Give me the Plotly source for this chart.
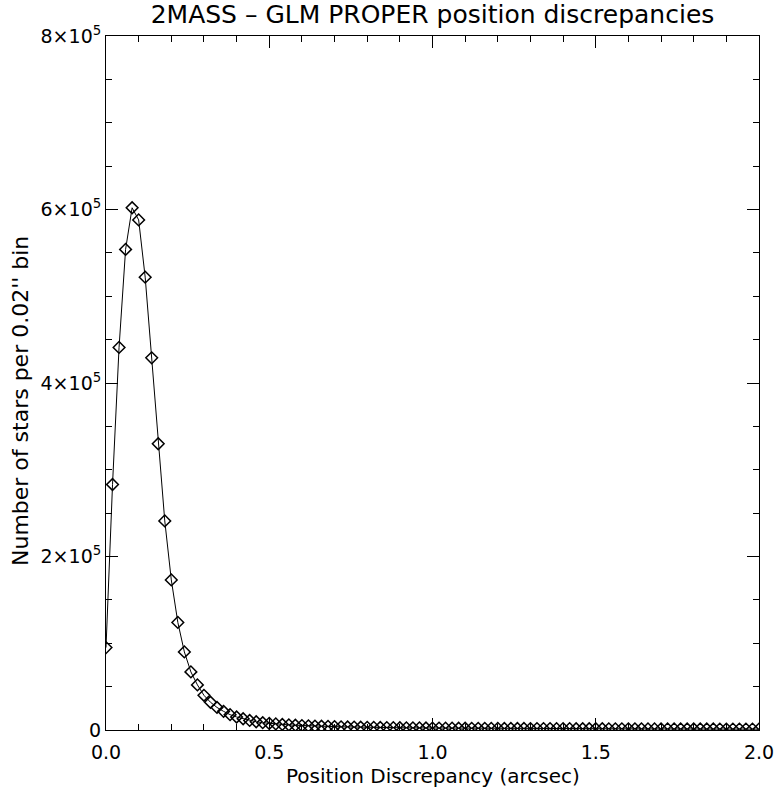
import plotly.graph_objects as go

# bin centers (arcsec), step 0.02
bin_step = 0.02
n_bins = 101
separation = [round(i * bin_step, 2) for i in range(n_bins)]

counts = [
    95000, 283000, 441000, 554000, 602000, 588000, 522000, 429000, 330000, 241000,
    173000, 124000, 90000, 67000, 52000, 40000, 32000, 26000, 21500, 17700,
    15000, 13000, 11000, 9500, 8400, 7600, 7000, 6400, 5900, 5500,
    5100, 4800, 4500, 4300, 4100, 3900, 3700, 3500, 3400, 3200,
    3100, 3000, 2900, 2800, 2700, 2600, 2500, 2450, 2400, 2300,
    2250, 2200, 2150, 2100, 2050, 2000, 1950, 1900, 1880, 1850,
    1800, 1780, 1750, 1720, 1700, 1680, 1650, 1620, 1600, 1580,
    1550, 1530, 1500, 1480, 1460, 1440, 1420, 1400, 1380, 1360,
    1340, 1320, 1300, 1290, 1270, 1250, 1240, 1220, 1200, 1190,
    1170, 1160, 1140, 1130, 1110, 1100, 1090, 1070, 1060, 1050,
    1040,
]

x_tickvals = [0.0, 0.5, 1.0, 1.5, 2.0]
x_ticktext = ["0.0", "0.5", "1.0", "1.5", "2.0"]
y_tickvals = [0, 200000, 400000, 600000, 800000]
y_ticktext = ["0", "2×10<sup>5</sup>", "4×10<sup>5</sup>", "6×10<sup>5</sup>", "8×10<sup>5</sup>"]

title_text = "2MASS – GLM PROPER position discrepancies"
x_title = "Position Discrepancy (arcsec)"
y_title = "Number of stars per 0.02'' bin"

FONT = "DejaVu Sans"
W, H = 777, 788
L, R, T, B = 106, 18, 36, 58

fig = go.Figure()
fig.add_trace(go.Scatter(
    x=separation, y=counts, mode="lines+markers",
    line=dict(color="black", width=1),
    marker=dict(symbol="diamond-open", size=9, color="black", line=dict(width=1.5, color="black")),
    cliponaxis=True, showlegend=False,
))

axis_common = dict(
    showgrid=False, zeroline=False, showline=True, linecolor="black", linewidth=1,
    mirror="ticks", ticks="inside", tickcolor="black", tickwidth=1, ticklen=12,
    tickfont=dict(family=FONT, size=19, color="black"), automargin=False,
)

fig.update_xaxes(
    range=[0, 2], tickmode="array", tickvals=x_tickvals, ticktext=x_ticktext,
    minor=dict(ticks="inside", dtick=0.1, ticklen=6, tickcolor="black", tickwidth=1),
    ticklabelstandoff=5,
    **axis_common,
)
fig.update_yaxes(
    range=[0, 800000], tickmode="array", tickvals=y_tickvals, ticktext=y_ticktext,
    minor=dict(ticks="inside", dtick=50000, ticklen=6, tickcolor="black", tickwidth=1),
    **axis_common,
)

cx = (L + (W - R)) / 2
fig.update_layout(
    width=W, height=H,
    margin=dict(l=L, r=R, t=T, b=B),
    paper_bgcolor="white", plot_bgcolor="white",
    title=dict(text=title_text, x=cx / W, xanchor="center", y=1 - 14 / H, yanchor="middle",
               font=dict(family=FONT, size=25, color="black")),
    annotations=[
        dict(text=x_title, xref="paper", yref="paper", x=0.5, y=-(776 - (H - B)) / (H - T - B),
             xanchor="center", yanchor="middle", showarrow=False,
             font=dict(family=FONT, size=20, color="black")),
        dict(text=y_title, xref="paper", yref="paper", x=-(L - 20) / (W - L - R),
             y=(H - B - 401) / (H - T - B), xanchor="center", yanchor="middle", textangle=-90,
             showarrow=False, font=dict(family=FONT, size=22, color="black")),
    ],
)

fig.write_html("out.html", config={"displayModeBar": False},
               post_script="document.body.style.margin='0px';document.body.style.overflow='hidden';")
